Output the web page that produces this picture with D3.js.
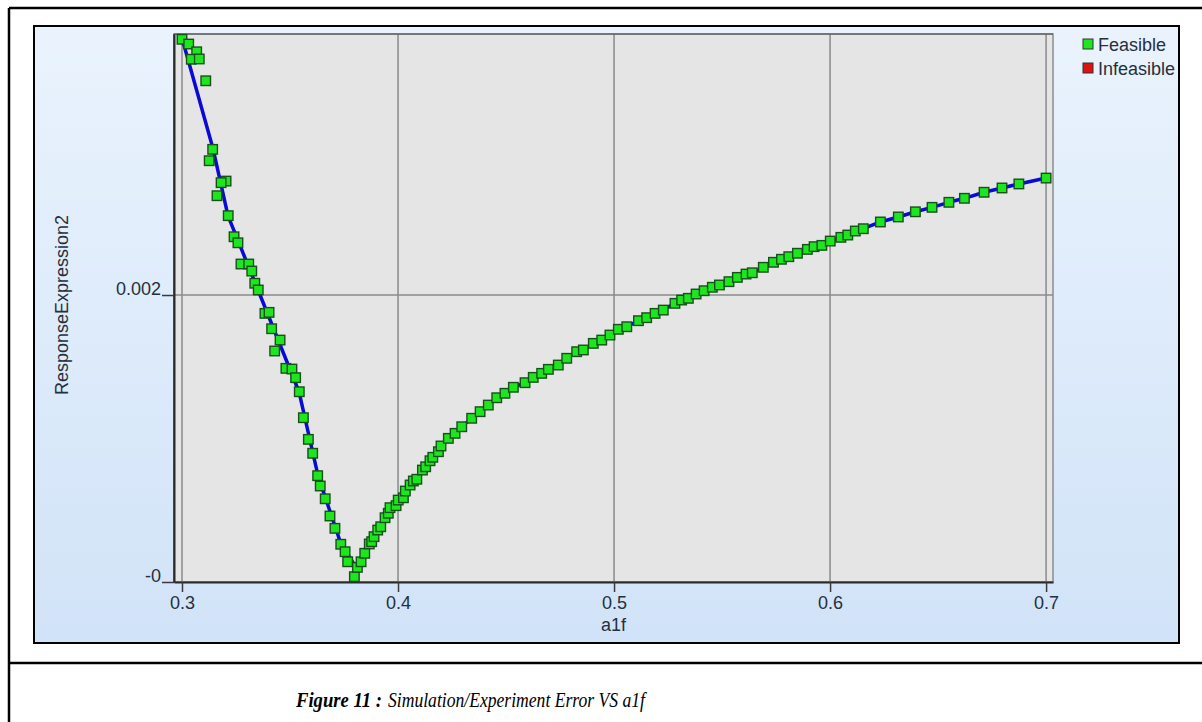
<!DOCTYPE html>
<html lang="en">

<head>
  <meta charset="UTF-8">
  <title>Figure 11</title>
  <script src="https://d3js.org/d3.v7.min.js"></script>
  <style>
    body { margin: 0; background: #ffffff; }
    svg text { font-family: "Liberation Sans", Arial, sans-serif; }
  </style>
</head>

<body>
  <svg id="fig" width="1202" height="722"></svg>

  <script>
    // feasible design points: a1f vs ResponseExpression2
    const feasibleA1f = [
      0.3000, 0.3031, 0.3068, 0.3043, 0.3080, 0.3110, 0.3142, 0.3126, 0.3204, 0.3181,
      0.3162, 0.3214, 0.3241, 0.3259, 0.3273, 0.3309, 0.3323, 0.3337, 0.3353, 0.3384,
      0.3403, 0.3415, 0.3454, 0.3429, 0.3481, 0.3509, 0.3526, 0.3543, 0.3562, 0.3585,
      0.3605, 0.3628, 0.3640, 0.3663, 0.3685, 0.3708, 0.3735, 0.3755, 0.3767, 0.3798,
      0.3812, 0.3829, 0.3846, 0.3867, 0.3878, 0.3889, 0.3906, 0.3920, 0.3940, 0.3955,
      0.3963, 0.3991, 0.4001, 0.4025, 0.4034, 0.4056, 0.4071, 0.4087, 0.4113, 0.4128,
      0.4148, 0.4161, 0.4187, 0.4199, 0.4233, 0.4264, 0.4295, 0.4341, 0.4380, 0.4418,
      0.4457, 0.4495, 0.4534, 0.4588, 0.4626, 0.4665, 0.4696, 0.4742, 0.4781, 0.4827,
      0.4858, 0.4904, 0.4943, 0.4981, 0.5020, 0.5059, 0.5113, 0.5151, 0.5190, 0.5228,
      0.5282, 0.5313, 0.5344, 0.5380, 0.5417, 0.5455, 0.5488, 0.5532, 0.5571, 0.5611,
      0.5640, 0.5691, 0.5738, 0.5775, 0.5809, 0.5849, 0.5895, 0.5926, 0.5962, 0.6001,
      0.6050, 0.6082, 0.6117, 0.6154, 0.6233, 0.6316, 0.6395, 0.6472, 0.6550, 0.6622,
      0.6713, 0.6796, 0.6874, 0.7000
    ];
    const feasibleResp = [
      0.003782, 0.003749, 0.003695, 0.003643, 0.003645, 0.003493, 0.003015, 0.002936, 0.002794, 0.002783,
      0.002692, 0.002553, 0.002406, 0.002364, 0.002216, 0.002216, 0.002167, 0.002082, 0.002035, 0.001872,
      0.001879, 0.001765, 0.001686, 0.001610, 0.001489, 0.001484, 0.001424, 0.001326, 0.001145, 0.000994,
      0.000897, 0.000741, 0.000669, 0.000580, 0.000460, 0.000374, 0.000263, 0.000211, 0.000141, 0.000037,
      0.000102, 0.000141, 0.000200, 0.000265, 0.000281, 0.000316, 0.000362, 0.000385, 0.000448, 0.000479,
      0.000518, 0.000532, 0.000571, 0.000587, 0.000634, 0.000676, 0.000704, 0.000716, 0.000780, 0.000803,
      0.000845, 0.000869, 0.000908, 0.000948, 0.001001, 0.001036, 0.001082, 0.001141, 0.001187, 0.001233,
      0.001284, 0.001315, 0.001357, 0.001389, 0.001426, 0.001454, 0.001482, 0.001512, 0.001559, 0.001605,
      0.001617, 0.001663, 0.001686, 0.001721, 0.001761, 0.001779, 0.001821, 0.001842, 0.001872, 0.001895,
      0.001942, 0.001965, 0.001977, 0.002007, 0.002030, 0.002054, 0.002070, 0.002093, 0.002123, 0.002146,
      0.002155, 0.002193, 0.002228, 0.002249, 0.002267, 0.002291, 0.002318, 0.002337, 0.002346, 0.002376,
      0.002402, 0.002418, 0.002446, 0.002462, 0.002509, 0.002544, 0.002580, 0.002611, 0.002646, 0.002674,
      0.002716, 0.002746, 0.002774, 0.002815
    ];

    // response curve on the falling side (right side follows the points)
    const curveA1f = [0.3000, 0.3144, 0.3213, 0.3352, 0.3542, 0.3630, 0.3736, 0.3796];
    const curveResp = [0.003791, 0.003017, 0.002551, 0.002035, 0.001324, 0.000739, 0.000265, 0.000125];

    const xTicks = [0.3, 0.4, 0.5, 0.6, 0.7];
    const yTicks = [0, 0.002];
    const yTickLabels = ["-0", "0.002"];
    const legendNames = ["Feasible", "Infeasible"];
    const legendColors = ["#1ee61e", "#dd1111"];

    const svg = d3.select("svg#fig");

    // outer table frame
    svg.append("line").attr("x1", 9).attr("x2", 1210).attr("y1", 8).attr("y2", 8)
      .attr("stroke", "#000").attr("stroke-width", 2.5);
    svg.append("line").attr("x1", 9).attr("x2", 9).attr("y1", 8).attr("y2", 722)
      .attr("stroke", "#000").attr("stroke-width", 2.5);
    svg.append("line").attr("x1", 9).attr("x2", 1210).attr("y1", 663).attr("y2", 663)
      .attr("stroke", "#000").attr("stroke-width", 2.5);

    // chart panel with a soft blue gradient
    const grad = svg.append("defs").append("linearGradient")
      .attr("id", "panelGrad").attr("x1", 0).attr("x2", 0).attr("y1", 0).attr("y2", 1);
    grad.append("stop").attr("offset", "0%").attr("stop-color", "#eaf3fd");
    grad.append("stop").attr("offset", "100%").attr("stop-color", "#d1e3f8");

    svg.append("rect").attr("x", 34).attr("y", 26).attr("width", 1145).attr("height", 617)
      .attr("fill", "url(#panelGrad)").attr("stroke", "#000").attr("stroke-width", 2);

    const plot = { left: 174, right: 1053, top: 34, bottom: 582 };

    const x = d3.scaleLinear().domain([0.2963, 0.7032]).range([plot.left, plot.right]);
    const y = d3.scaleLinear().domain([0, 0.003819]).range([plot.bottom, plot.top]);

    svg.append("rect").attr("x", plot.left).attr("y", plot.top)
      .attr("width", plot.right - plot.left).attr("height", plot.bottom - plot.top)
      .attr("fill", "#e5e5e5").attr("stroke", "#8c8c8c").attr("stroke-width", 1.5);

    // grid
    svg.append("g").selectAll("line").data(xTicks).join("line")
      .attr("x1", d => x(d)).attr("x2", d => x(d))
      .attr("y1", plot.top).attr("y2", plot.bottom)
      .attr("stroke", "#8a8a8a").attr("stroke-width", 1.5);
    svg.append("g").selectAll("line").data(yTicks).join("line")
      .attr("x1", plot.left).attr("x2", plot.right)
      .attr("y1", d => y(d)).attr("y2", d => y(d))
      .attr("stroke", "#8a8a8a").attr("stroke-width", 1.5);

    // darker frame edges
    svg.append("line").attr("x1", plot.left).attr("x2", plot.left)
      .attr("y1", plot.top).attr("y2", plot.bottom).attr("stroke", "#4a4a4a").attr("stroke-width", 1.5);
    svg.append("line").attr("x1", plot.left).attr("x2", plot.right)
      .attr("y1", plot.top).attr("y2", plot.top).attr("stroke", "#4a4a4a").attr("stroke-width", 1.2);

    // axes
    const xAxis = svg.append("g").attr("transform", `translate(0,${plot.bottom})`)
      .call(d3.axisBottom(x).tickValues(xTicks).tickFormat(d3.format(".1f"))
        .tickSize(10).tickPadding(4).tickSizeOuter(0));
    const yAxis = svg.append("g").attr("transform", `translate(${plot.left},0)`)
      .call(d3.axisLeft(y).tickValues(yTicks).tickFormat((d, i) => yTickLabels[i])
        .tickSize(12).tickPadding(1).tickSizeOuter(0));

    [xAxis, yAxis].forEach(ax => {
      ax.select(".domain").attr("stroke", "#2a2a2a").attr("stroke-width", 2);
      ax.selectAll(".tick line").attr("stroke", "#3a3a3a").attr("stroke-width", 1.5);
      ax.selectAll(".tick text").attr("fill", "#26303c")
        .style("font-size", "18px").style("font-family", "'Liberation Sans', Arial, sans-serif");
    });
    // y labels sit on top of their tick line
    yAxis.selectAll(".tick text").attr("dy", "-0.05em");

    // axis titles
    svg.append("text").attr("x", (plot.left + plot.right) / 2 + 0).attr("y", 631)
      .attr("text-anchor", "middle").attr("fill", "#26303c").style("font-size", "18px").text("a1f");
    svg.append("text").attr("transform", "translate(68,305) rotate(-90)")
      .attr("text-anchor", "middle").attr("fill", "#26303c").style("font-size", "18px")
      .text("ResponseExpression2");

    // data
    const points = feasibleA1f.map((a, i) => ({ a1f: a, resp: feasibleResp[i] }));
    const curve = curveA1f.map((a, i) => ({ a1f: a, resp: curveResp[i] }))
      .concat(points.filter(p => p.a1f > 0.3805).sort((p, q) => p.a1f - q.a1f));

    const line = d3.line().x(d => x(d.a1f)).y(d => y(d.resp));
    svg.append("path").datum(curve)
      .attr("d", line).attr("fill", "none")
      .attr("stroke", "#0a0ad8").attr("stroke-width", 3.5).attr("stroke-linejoin", "round");

    const sq = 9.5;
    svg.append("g").selectAll("rect").data(points).join("rect")
      .attr("x", d => x(d.a1f) - sq / 2)
      .attr("y", d => y(d.resp) - sq / 2)
      .attr("width", sq).attr("height", sq)
      .attr("fill", legendColors[0])
      .attr("stroke", "#17501a").attr("stroke-width", 1.4);

    // legend
    const legend = svg.append("g").selectAll("g").data(legendNames).join("g")
      .attr("transform", (d, i) => `translate(1083,${39 + i * 24})`);
    legend.append("rect").attr("width", 10).attr("height", 10)
      .attr("fill", (d, i) => legendColors[i]).attr("stroke", "#333").attr("stroke-width", 1);
    legend.append("text").attr("x", 15).attr("y", 11.5)
      .attr("fill", "#26303c").style("font-size", "18px").text(d => d);

    // caption (narrow Times look: each part squeezed to its original width)
    const capFont = "'Liberation Serif', 'Times New Roman', serif";
    svg.append("text").attr("x", 296).attr("y", 707)
      .attr("textLength", 86).attr("lengthAdjust", "spacingAndGlyphs")
      .style("font-family", capFont).style("font-size", "22px")
      .style("font-style", "italic").style("font-weight", "bold").attr("fill", "#000")
      .text("Figure 11 :");
    svg.append("text").attr("x", 388).attr("y", 707)
      .attr("textLength", 257).attr("lengthAdjust", "spacingAndGlyphs")
      .style("font-family", capFont).style("font-size", "22px")
      .style("font-style", "italic").attr("fill", "#000")
      .text("Simulation/Experiment Error VS a1f");
  </script>

</body>

</html>
